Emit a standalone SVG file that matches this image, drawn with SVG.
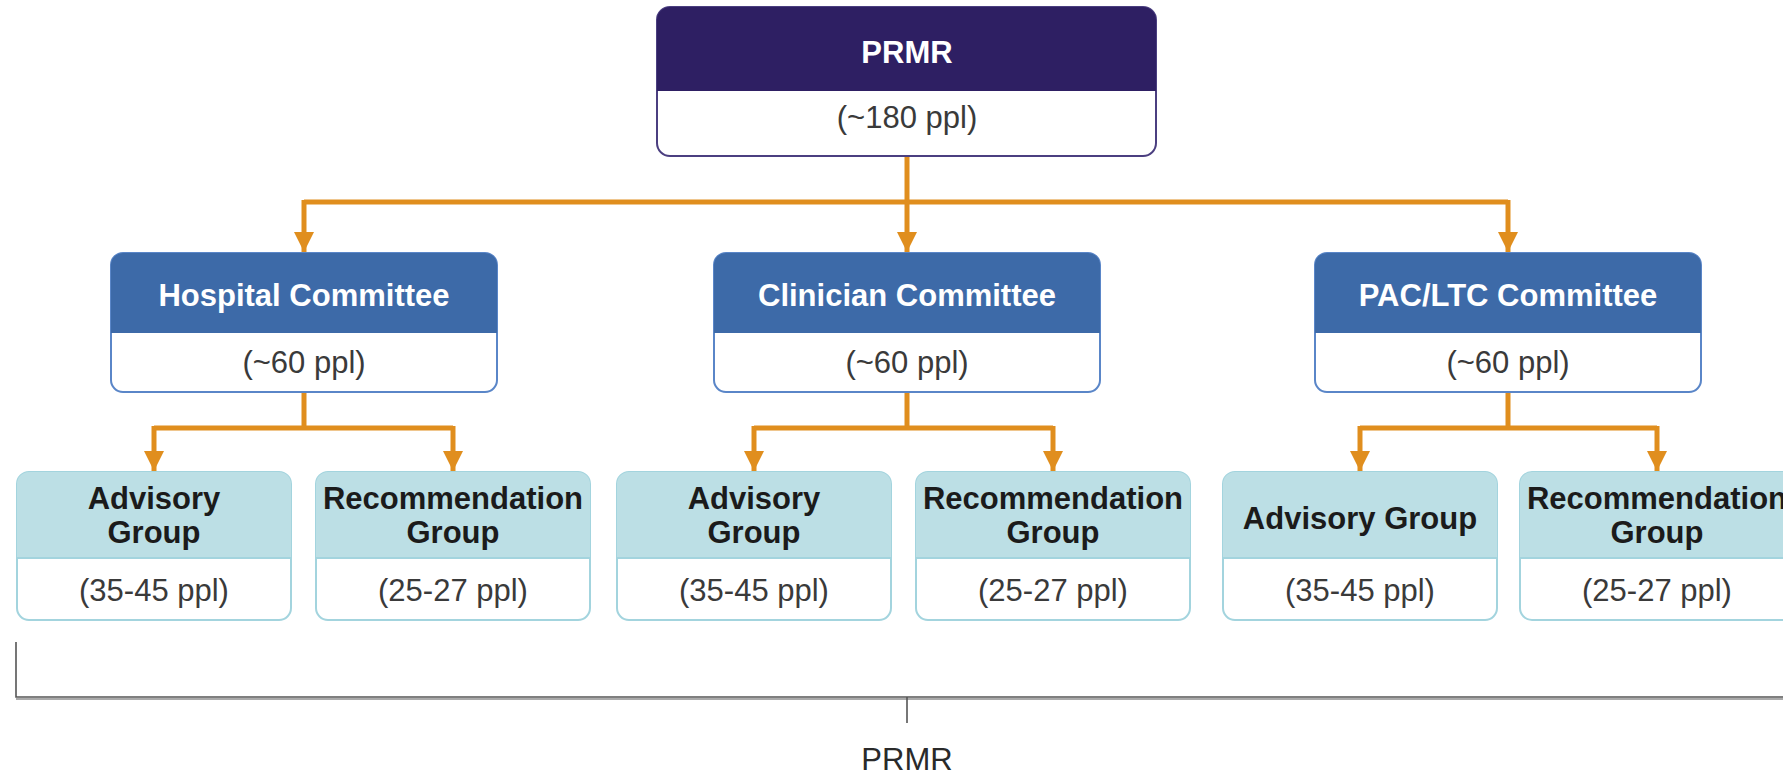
<svg xmlns="http://www.w3.org/2000/svg" width="1783" height="777" viewBox="0 0 1783 777">
<defs>
<style>
.t{font-family:"Liberation Sans",Arial,sans-serif;text-anchor:middle}
.hw{font-size:31px;font-weight:bold;fill:#ffffff}
.hd{font-size:31px;font-weight:bold;fill:#1b1b1b}
.cnt{font-size:31px;fill:#3a3a3a}
.conn{fill:none;stroke:#E08E1E;stroke-width:5;stroke-linejoin:miter}
.br{fill:none;stroke:#555;stroke-width:1.6}
</style>
<marker id="ah" viewBox="0 0 10 10" refX="10" refY="5" markerWidth="4" markerHeight="4" markerUnits="strokeWidth" orient="auto">
<path d="M0,0 L10,5 L0,10 z" fill="#E08E1E"/>
</marker>
</defs>
<rect width="1783" height="777" fill="#ffffff"/>

<g id="connectors">
<path class="conn" d="M907,156 V202"/>
<path class="conn" d="M304,202 H1508"/>
<path class="conn" d="M304,200 V252" marker-end="url(#ah)"/>
<path class="conn" d="M907,200 V252" marker-end="url(#ah)"/>
<path class="conn" d="M1508,200 V252" marker-end="url(#ah)"/>
<path class="conn" d="M304,392 V428 M154,428 H453"/>
<path class="conn" d="M154,426 V471" marker-end="url(#ah)"/>
<path class="conn" d="M453,426 V471" marker-end="url(#ah)"/>
<path class="conn" d="M907,392 V428 M754,428 H1053"/>
<path class="conn" d="M754,426 V471" marker-end="url(#ah)"/>
<path class="conn" d="M1053,426 V471" marker-end="url(#ah)"/>
<path class="conn" d="M1508,392 V428 M1360,428 H1657"/>
<path class="conn" d="M1360,426 V471" marker-end="url(#ah)"/>
<path class="conn" d="M1657,426 V471" marker-end="url(#ah)"/>
</g>

<g id="prmr">
<rect x="657" y="7" width="499" height="149" rx="13" fill="#ffffff" stroke="#4B3F80" stroke-width="2"/>
<path d="M657,90 V20 A13,13 0 0 1 670,7 H1143 A13,13 0 0 1 1156,20 V90 Z" fill="#2E1F63"/>
<line x1="657" y1="90" x2="1156" y2="90" stroke="#2E1F63" stroke-width="2"/>
<text class="t hw" x="907" y="63">PRMR</text>
<text class="t cnt" x="907" y="128">(~180 ppl)</text>
</g>

<g id="hospital">
<rect x="111" y="253" width="386" height="139" rx="12" fill="#ffffff" stroke="#5A86C8" stroke-width="2"/>
<path d="M111,333 V265 A12,12 0 0 1 123,253 H485 A12,12 0 0 1 497,265 V333 Z" fill="#3D6AA8"/>
<text class="t hw" x="304" y="306">Hospital Committee</text>
<text class="t cnt" x="304" y="373">(~60 ppl)</text>
</g>

<g id="clinician">
<rect x="714" y="253" width="386" height="139" rx="12" fill="#ffffff" stroke="#5A86C8" stroke-width="2"/>
<path d="M714,333 V265 A12,12 0 0 1 726,253 H1088 A12,12 0 0 1 1100,265 V333 Z" fill="#3D6AA8"/>
<text class="t hw" x="907" y="306">Clinician Committee</text>
<text class="t cnt" x="907" y="373">(~60 ppl)</text>
</g>

<g id="pacltc">
<rect x="1315" y="253" width="386" height="139" rx="12" fill="#ffffff" stroke="#5A86C8" stroke-width="2"/>
<path d="M1315,333 V265 A12,12 0 0 1 1327,253 H1689 A12,12 0 0 1 1701,265 V333 Z" fill="#3D6AA8"/>
<text class="t hw" x="1508" y="306">PAC/LTC Committee</text>
<text class="t cnt" x="1508" y="373">(~60 ppl)</text>
</g>

<g id="hosp-advisory">
<rect x="17" y="472" width="274" height="148" rx="12" fill="#ffffff" stroke="#A3D4DE" stroke-width="2"/>
<path d="M17,558 V484 A12,12 0 0 1 29,472 H279 A12,12 0 0 1 291,484 V558 Z" fill="#BCDFE5"/>
<line x1="17" y1="558" x2="291" y2="558" stroke="#A3D4DE" stroke-width="2"/>
<text class="t hd" x="154" y="509">Advisory</text>
<text class="t hd" x="154" y="543">Group</text>
<text class="t cnt" x="154" y="601">(35-45 ppl)</text>
</g>

<g id="hosp-recommendation">
<rect x="316" y="472" width="274" height="148" rx="12" fill="#ffffff" stroke="#A3D4DE" stroke-width="2"/>
<path d="M316,558 V484 A12,12 0 0 1 328,472 H578 A12,12 0 0 1 590,484 V558 Z" fill="#BCDFE5"/>
<line x1="316" y1="558" x2="590" y2="558" stroke="#A3D4DE" stroke-width="2"/>
<text class="t hd" x="453" y="509">Recommendation</text>
<text class="t hd" x="453" y="543">Group</text>
<text class="t cnt" x="453" y="601">(25-27 ppl)</text>
</g>

<g id="clin-advisory">
<rect x="617" y="472" width="274" height="148" rx="12" fill="#ffffff" stroke="#A3D4DE" stroke-width="2"/>
<path d="M617,558 V484 A12,12 0 0 1 629,472 H879 A12,12 0 0 1 891,484 V558 Z" fill="#BCDFE5"/>
<line x1="617" y1="558" x2="891" y2="558" stroke="#A3D4DE" stroke-width="2"/>
<text class="t hd" x="754" y="509">Advisory</text>
<text class="t hd" x="754" y="543">Group</text>
<text class="t cnt" x="754" y="601">(35-45 ppl)</text>
</g>

<g id="clin-recommendation">
<rect x="916" y="472" width="274" height="148" rx="12" fill="#ffffff" stroke="#A3D4DE" stroke-width="2"/>
<path d="M916,558 V484 A12,12 0 0 1 928,472 H1178 A12,12 0 0 1 1190,484 V558 Z" fill="#BCDFE5"/>
<line x1="916" y1="558" x2="1190" y2="558" stroke="#A3D4DE" stroke-width="2"/>
<text class="t hd" x="1053" y="509">Recommendation</text>
<text class="t hd" x="1053" y="543">Group</text>
<text class="t cnt" x="1053" y="601">(25-27 ppl)</text>
</g>

<g id="pac-advisory">
<rect x="1223" y="472" width="274" height="148" rx="12" fill="#ffffff" stroke="#A3D4DE" stroke-width="2"/>
<path d="M1223,558 V484 A12,12 0 0 1 1235,472 H1485 A12,12 0 0 1 1497,484 V558 Z" fill="#BCDFE5"/>
<line x1="1223" y1="558" x2="1497" y2="558" stroke="#A3D4DE" stroke-width="2"/>
<text class="t hd" x="1360" y="529">Advisory Group</text>
<text class="t cnt" x="1360" y="601">(35-45 ppl)</text>
</g>

<g id="pac-recommendation">
<rect x="1520" y="472" width="274" height="148" rx="12" fill="#ffffff" stroke="#A3D4DE" stroke-width="2"/>
<path d="M1520,558 V484 A12,12 0 0 1 1532,472 H1782 A12,12 0 0 1 1794,484 V558 Z" fill="#BCDFE5"/>
<line x1="1520" y1="558" x2="1794" y2="558" stroke="#A3D4DE" stroke-width="2"/>
<text class="t hd" x="1657" y="509">Recommendation</text>
<text class="t hd" x="1657" y="543">Group</text>
<text class="t cnt" x="1657" y="601">(25-27 ppl)</text>
</g>

<g id="bracket">
<path class="br" d="M16,642 V697 H1783"/>
<line x1="16" y1="699" x2="1783" y2="699" stroke="#aaa" stroke-width="2"/>
<line x1="907" y1="697" x2="907" y2="723" stroke="#555" stroke-width="1.6"/>
<text class="t" x="907" y="770" font-size="31" fill="#2a2a2a">PRMR</text>
</g>
</svg>
